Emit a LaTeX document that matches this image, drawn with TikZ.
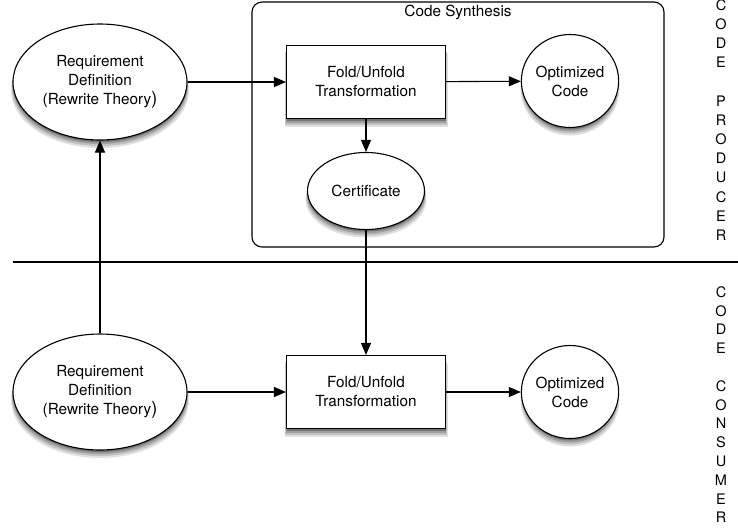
\documentclass[tikz,border=0pt]{standalone}
\usepackage{fontspec}
\setmainfont{TeX Gyre Heros}
\usetikzlibrary{shapes.geometric,arrows.meta,calc}
\begin{document}
\begin{tikzpicture}[x=1pt,y=-1pt,
  every node/.style={font=\fontsize{15.3}{19}\selectfont},
  oval/.style={ellipse,draw,line width=1.1pt,fill=white,inner sep=0pt,align=center},
  procbox/.style={rectangle,draw,line width=1.1pt,fill=white,inner sep=0pt,align=center,
                  minimum width=159pt,minimum height=73pt},
  conn/.style={line width=1.1pt,-{Triangle[length=12pt,width=10pt]}},
  vletter/.style={font=\fontsize{14.5}{16}\selectfont,inner sep=0pt}]
\useasboundingbox (0,0) rectangle (738,531);

% soft drop shadows (drawn first, below the nodes)
\foreach \dy/\sh/\gr in {8/2/12, 6/1.2/24, 4/0.6/38, 2/0/55} {
  \foreach \cx/\cy/\rx/\ry in {100/82/87/58, 100/392/87/58, 570/81/47.5/46.5,
                               570/392/47.5/46.5, 366/191/58.5/38.5} {
    \fill[black!\gr] (\cx,\cy+\dy) ellipse [x radius=\rx+\sh, y radius=\ry];
  }
  \foreach \cy in {82,392} {
    \fill[black!\gr] (286.5-\sh,\cy-36.5+\dy) rectangle (445.5+\sh,\cy+36.5+\dy);
  }
}

% Code synthesis frame
\draw[line width=1.1pt,rounded corners=10pt] (252,2) rectangle (664,247);
\node (cs) at (458,12) {Code Synthesis};

% top row
\node[oval,minimum width=174pt,minimum height=116pt] (req1) at (100,82)
  {Requirement\\Definition\\(Rewrite Theory{\fontsize{18}{19}\selectfont)}};
\node[procbox] (fold1) at (366,82) {Fold/Unfold\\Transformation};
\node[oval,minimum width=95pt,minimum height=93pt] (opt1) at (570,81) {Optimized\\Code};
\node[oval,minimum width=117pt,minimum height=77pt] (cert) at (366,191) {Certificate};

% bottom row
\node[oval,minimum width=174pt,minimum height=116pt] (req2) at (100,392)
  {Requirement\\Definition\\(Rewrite Theory{\fontsize{18}{19}\selectfont)}};
\node[procbox] (fold2) at (366,392) {Fold/Unfold\\Transformation};
\node[oval,minimum width=95pt,minimum height=93pt] (opt2) at (570,392) {Optimized\\Code};

% separator
\coordinate (sepL) at (13,262);
\coordinate (sepR) at (738,262);
\draw[line width=1.1pt] (sepL) -- (sepR);

% connectors
\draw[conn] (req1) -- (fold1);
\draw[conn] (fold1) -- (opt1);
\draw[conn] (fold1) -- (cert);
\draw[conn] (cert) -- (fold2);
\draw[conn] (req2) -- (fold2);
\draw[conn] (fold2) -- (opt2);
\draw[conn] (req2) -- (req1);

% side labels
\foreach \l [count=\i] in {C,O,D,E,{},P,R,O,D,U,C,E,R}
  \node[vletter] (prod\i) at (721,{5+19.2*(\i-1)}) {\l};
\foreach \l [count=\i] in {C,O,D,E,{},C,O,N,S,U,M,E,R}
  \node[vletter] (cons\i) at (721,{292+18.8*(\i-1)}) {\l};
\end{tikzpicture}
\end{document}
